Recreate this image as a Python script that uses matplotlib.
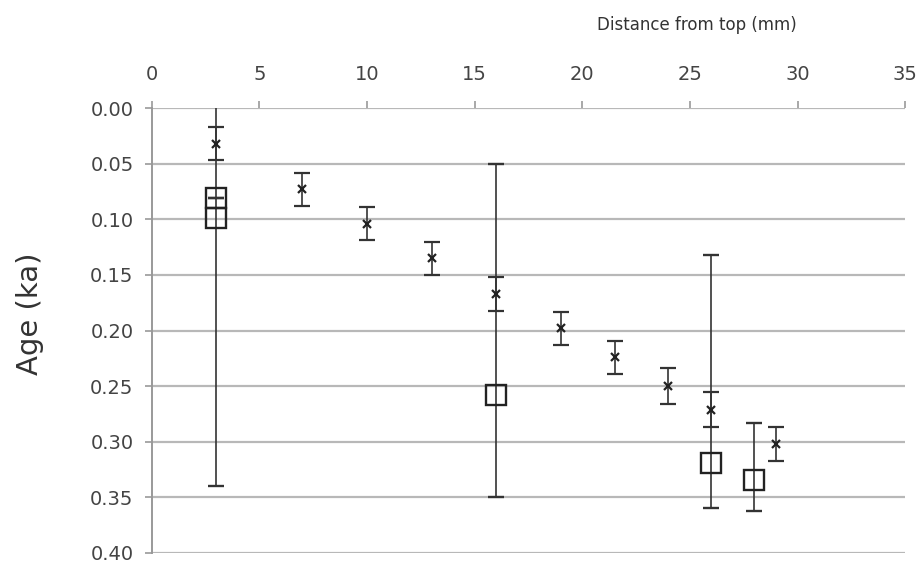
import numpy as np
import matplotlib
matplotlib.use("Agg")
import matplotlib.pyplot as plt

# x-marker series (small error bars)
dist_x = [3, 7, 10, 13, 16, 19, 21.5, 24, 26, 29]
age_x = [0.032, 0.073, 0.104, 0.135, 0.167, 0.198, 0.224, 0.250, 0.271, 0.302]
err_x = [0.015, 0.015, 0.015, 0.015, 0.015, 0.015, 0.015, 0.016, 0.016, 0.015]

# square series (large error bars)
dist_sq = [3, 3, 16, 26, 28]
age_sq = [0.081, 0.099, 0.258, 0.319, 0.334]
err_sq_lo = [0.0, 0.241, 0.208, 0.187, 0.051]
err_sq_hi = [0.0, 0.241, 0.092, 0.041, 0.028]

yticks = np.arange(0, 0.401, 0.05)
xticks = np.arange(0, 36, 5)

fig = plt.figure(figsize=(9.19, 5.66), dpi=100)
ax = fig.add_axes([0.165, 0.023, 0.82, 0.786])

for y in yticks:
    ax.axhline(y, color="#b8b8b8", lw=1.6, zorder=0)

ax.errorbar(dist_sq, age_sq, yerr=[err_sq_lo, err_sq_hi], fmt="s", ms=14.5,
            mfc="none", mec="#222222", mew=1.7, ecolor="#333333", elinewidth=1.2,
            capsize=6, capthick=1.2, zorder=3)
ax.errorbar(dist_x, age_x, yerr=err_x, fmt="x", ms=6, mec="#222222", mew=1.6,
            ecolor="#333333", elinewidth=1.2, capsize=6, capthick=1.2, zorder=4)

ax.set_xlim(0, 35)
ax.set_ylim(0.40, 0.0)
ax.xaxis.tick_top()
ax.set_xticks(xticks)
ax.set_yticks(yticks)
ax.set_yticklabels([f"{v:.2f}" for v in yticks])
ax.tick_params(axis="both", labelsize=14, labelcolor="#444444", color="#999999",
               length=5, width=1.2)
ax.tick_params(axis="x", pad=12)
ax.tick_params(axis="y", pad=8)

for s in ["top", "right", "bottom"]:
    ax.spines[s].set_visible(False)
ax.spines["left"].set_color("#999999")
ax.spines["left"].set_linewidth(1.4)

ax.set_ylabel("Age (ka)", fontsize=21, color="#333333")
ax.yaxis.set_label_coords(-0.143, 0.537)
fig.text(0.758, 0.956, "Distance from top (mm)", fontsize=12, color="#333333",
         ha="center", va="center")

fig.savefig("out.png", dpi=100)
